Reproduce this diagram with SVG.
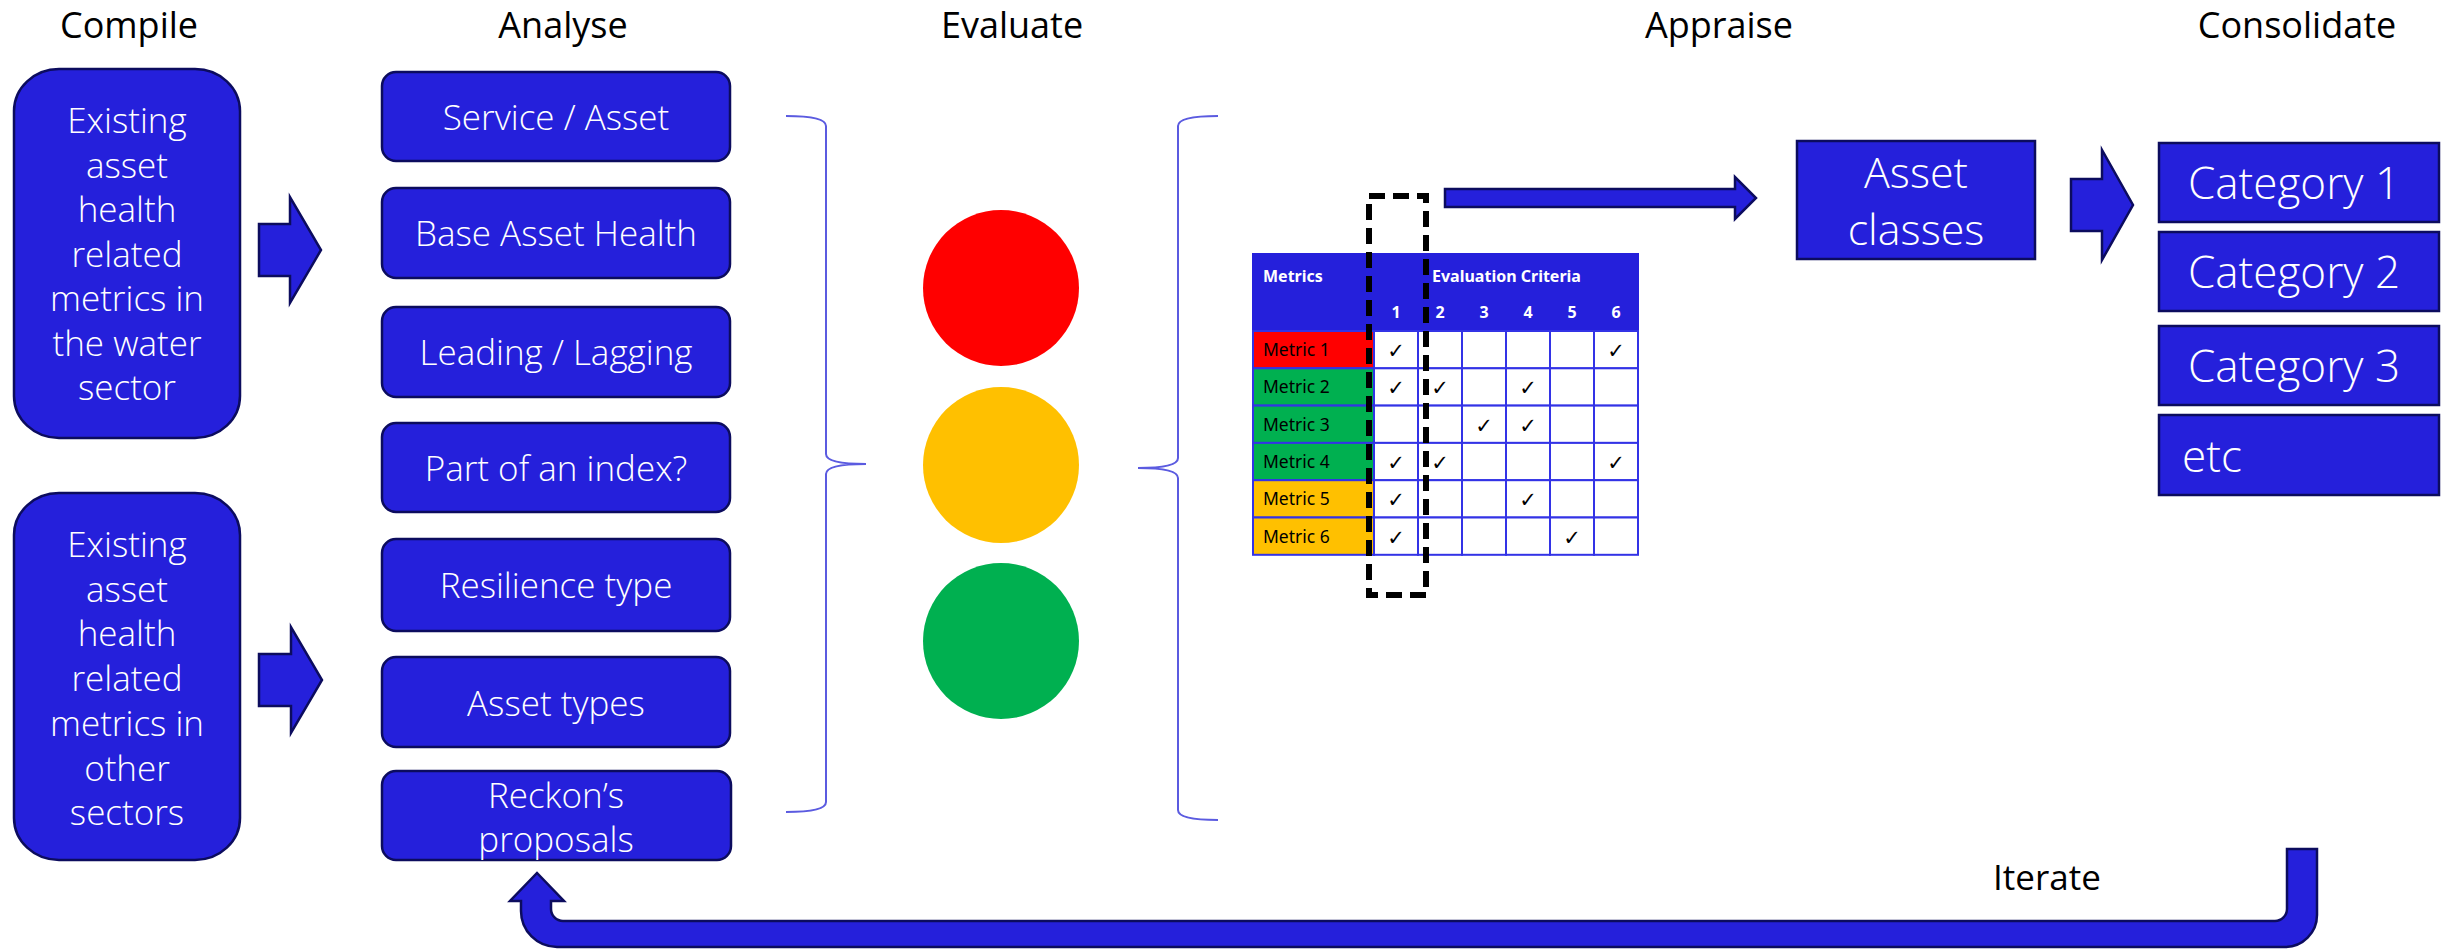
<svg xmlns="http://www.w3.org/2000/svg" width="2441" height="949" viewBox="0 0 2441 949">
<style>
.hdr{font-family:"Open Sans","Liberation Sans",sans-serif;font-size:36px;fill:#000;text-anchor:middle}
.box{fill:#2520DB;stroke:#0C0C5E;stroke-width:2.5}
.bt{font-family:"Open Sans","Liberation Sans",sans-serif;font-weight:300;font-size:35px;fill:#fff;text-anchor:middle}
.ct{font-family:"Open Sans","Liberation Sans",sans-serif;font-weight:300;font-size:44px;fill:#fff}
.arr{fill:#2520DB;stroke:#0C0C5E;stroke-width:2.5;stroke-linejoin:miter}
.brace{fill:none;stroke:#5B5BE0;stroke-width:2}
.cell{fill:#fff;stroke:#3333E6;stroke-width:2}
.mc{stroke:#3333E6;stroke-width:2}
.mt{font-family:"Noto Sans","Liberation Sans",sans-serif;font-size:17.5px;fill:#000}
.th{font-family:"Noto Sans","Liberation Sans",sans-serif;font-size:16px;font-weight:bold;fill:#fff}
.num{font-family:"Noto Sans","Liberation Sans",sans-serif;font-size:16px;font-weight:bold;fill:#fff;text-anchor:middle}
.ck{font-family:"DejaVu Sans",sans-serif;font-size:21px;fill:#000;text-anchor:middle}
</style>

<g id="headers">
<text class="hdr" x="129" y="38">Compile</text>
<text class="hdr" x="563" y="38">Analyse</text>
<text class="hdr" x="1012" y="38">Evaluate</text>
<text class="hdr" x="1719" y="38">Appraise</text>
<text class="hdr" x="2297" y="38">Consolidate</text>
</g>

<g id="compile-water">
<rect class="box" x="14" y="69" width="226" height="369" rx="45" ry="42"/>
<text class="bt" x="127" y="133"><tspan x="127">Existing</tspan><tspan x="127" dy="44.5">asset</tspan><tspan x="127" dy="44.5">health</tspan><tspan x="127" dy="44.5">related</tspan><tspan x="127" dy="44.5">metrics in</tspan><tspan x="127" dy="44.5">the water</tspan><tspan x="127" dy="44.5">sector</tspan></text>
</g>
<g id="compile-other">
<rect class="box" x="14" y="493" width="226" height="367" rx="45" ry="42"/>
<text class="bt" x="127" y="557"><tspan x="127">Existing</tspan><tspan x="127" dy="44.7">asset</tspan><tspan x="127" dy="44.7">health</tspan><tspan x="127" dy="44.7">related</tspan><tspan x="127" dy="44.7">metrics in</tspan><tspan x="127" dy="44.7">other</tspan><tspan x="127" dy="44.7">sectors</tspan></text>
</g>

<g id="analyse-service">
<rect class="box" x="382" y="72" width="348" height="89" rx="14"/>
<text class="bt" x="556" y="130">Service / Asset</text>
</g>
<g id="analyse-base">
<rect class="box" x="382" y="188" width="348" height="90" rx="14"/>
<text class="bt" x="556" y="246">Base Asset Health</text>
</g>
<g id="analyse-leading">
<rect class="box" x="382" y="307" width="348" height="90" rx="14"/>
<text class="bt" x="556" y="365">Leading / Lagging</text>
</g>
<g id="analyse-index">
<rect class="box" x="382" y="423" width="348" height="89" rx="14"/>
<text class="bt" x="556" y="481">Part of an index?</text>
</g>
<g id="analyse-resilience">
<rect class="box" x="382" y="539" width="348" height="92" rx="14"/>
<text class="bt" x="556" y="598">Resilience type</text>
</g>
<g id="analyse-types">
<rect class="box" x="382" y="657" width="348" height="90" rx="14"/>
<text class="bt" x="556" y="716">Asset types</text>
</g>
<g id="analyse-reckon">
<rect class="box" x="382" y="771" width="349" height="89" rx="14"/>
<text class="bt" x="556" y="808">Reckon’s</text>
<text class="bt" x="556" y="852">proposals</text>
</g>

<g id="evaluate">
<circle cx="1001" cy="288" r="78" fill="#FF0000"/>
<circle cx="1001" cy="465" r="78" fill="#FFC000"/>
<circle cx="1001" cy="641" r="78" fill="#00B050"/>
</g>

<g id="table">
<rect x="1252" y="253" width="387" height="78" fill="#2520DB"/>
<text class="th" x="1263" y="282">Metrics</text>
<text class="th" x="1432" y="282">Evaluation Criteria</text>
<text class="num" x="1396" y="318">1</text>
<text class="num" x="1440" y="318">2</text>
<text class="num" x="1484" y="318">3</text>
<text class="num" x="1528" y="318">4</text>
<text class="num" x="1572" y="318">5</text>
<text class="num" x="1616" y="318">6</text>
<g id="metric-cells">
<rect class="mc" x="1253" y="331" width="121" height="37.3" fill="#FF0000"/>
<rect class="mc" x="1253" y="368.3" width="121" height="37.3" fill="#00B050"/>
<rect class="mc" x="1253" y="405.6" width="121" height="37.3" fill="#00B050"/>
<rect class="mc" x="1253" y="442.9" width="121" height="37.3" fill="#00B050"/>
<rect class="mc" x="1253" y="480.2" width="121" height="37.3" fill="#FFC000"/>
<rect class="mc" x="1253" y="517.5" width="121" height="37.3" fill="#FFC000"/>
<text class="mt" x="1263" y="356">Metric 1</text>
<text class="mt" x="1263" y="393.3">Metric 2</text>
<text class="mt" x="1263" y="430.6">Metric 3</text>
<text class="mt" x="1263" y="467.9">Metric 4</text>
<text class="mt" x="1263" y="505.2">Metric 5</text>
<text class="mt" x="1263" y="542.5">Metric 6</text>
</g>
<g id="grid">
<rect class="cell" x="1374" y="331" width="44" height="37.3"/><rect class="cell" x="1418" y="331" width="44" height="37.3"/><rect class="cell" x="1462" y="331" width="44" height="37.3"/><rect class="cell" x="1506" y="331" width="44" height="37.3"/><rect class="cell" x="1550" y="331" width="44" height="37.3"/><rect class="cell" x="1594" y="331" width="44" height="37.3"/>
<rect class="cell" x="1374" y="368.3" width="44" height="37.3"/><rect class="cell" x="1418" y="368.3" width="44" height="37.3"/><rect class="cell" x="1462" y="368.3" width="44" height="37.3"/><rect class="cell" x="1506" y="368.3" width="44" height="37.3"/><rect class="cell" x="1550" y="368.3" width="44" height="37.3"/><rect class="cell" x="1594" y="368.3" width="44" height="37.3"/>
<rect class="cell" x="1374" y="405.6" width="44" height="37.3"/><rect class="cell" x="1418" y="405.6" width="44" height="37.3"/><rect class="cell" x="1462" y="405.6" width="44" height="37.3"/><rect class="cell" x="1506" y="405.6" width="44" height="37.3"/><rect class="cell" x="1550" y="405.6" width="44" height="37.3"/><rect class="cell" x="1594" y="405.6" width="44" height="37.3"/>
<rect class="cell" x="1374" y="442.9" width="44" height="37.3"/><rect class="cell" x="1418" y="442.9" width="44" height="37.3"/><rect class="cell" x="1462" y="442.9" width="44" height="37.3"/><rect class="cell" x="1506" y="442.9" width="44" height="37.3"/><rect class="cell" x="1550" y="442.9" width="44" height="37.3"/><rect class="cell" x="1594" y="442.9" width="44" height="37.3"/>
<rect class="cell" x="1374" y="480.2" width="44" height="37.3"/><rect class="cell" x="1418" y="480.2" width="44" height="37.3"/><rect class="cell" x="1462" y="480.2" width="44" height="37.3"/><rect class="cell" x="1506" y="480.2" width="44" height="37.3"/><rect class="cell" x="1550" y="480.2" width="44" height="37.3"/><rect class="cell" x="1594" y="480.2" width="44" height="37.3"/>
<rect class="cell" x="1374" y="517.5" width="44" height="37.3"/><rect class="cell" x="1418" y="517.5" width="44" height="37.3"/><rect class="cell" x="1462" y="517.5" width="44" height="37.3"/><rect class="cell" x="1506" y="517.5" width="44" height="37.3"/><rect class="cell" x="1550" y="517.5" width="44" height="37.3"/><rect class="cell" x="1594" y="517.5" width="44" height="37.3"/>
</g>
<g id="checks">
<text class="ck" x="1396" y="358">✓</text><text class="ck" x="1616" y="358">✓</text>
<text class="ck" x="1396" y="395.3">✓</text><text class="ck" x="1440" y="395.3">✓</text><text class="ck" x="1528" y="395.3">✓</text>
<text class="ck" x="1484" y="432.6">✓</text><text class="ck" x="1528" y="432.6">✓</text>
<text class="ck" x="1396" y="469.9">✓</text><text class="ck" x="1440" y="469.9">✓</text><text class="ck" x="1616" y="469.9">✓</text>
<text class="ck" x="1396" y="507.2">✓</text><text class="ck" x="1528" y="507.2">✓</text>
<text class="ck" x="1396" y="544.5">✓</text><text class="ck" x="1572" y="544.5">✓</text>
</g>
<rect id="highlight" x="1369" y="196" width="57" height="399" fill="none" stroke="#000" stroke-width="6" stroke-dasharray="16 8"/>
</g>

<g id="asset-classes">
<rect x="1797" y="141" width="238" height="118" fill="#2520DB" stroke="#0C0C5E" stroke-width="2.5"/>
<text class="bt" x="1916" y="188" style="font-size:43px">Asset</text>
<text class="bt" x="1916" y="245" style="font-size:43px">classes</text>
</g>

<g id="category-1">
<rect class="box" x="2159" y="143" width="280" height="79"/>
<text class="ct" x="2188" y="199">Category 1</text>
</g>
<g id="category-2">
<rect class="box" x="2159" y="232" width="280" height="79"/>
<text class="ct" x="2188" y="288">Category 2</text>
</g>
<g id="category-3">
<rect class="box" x="2159" y="326" width="280" height="79"/>
<text class="ct" x="2188" y="382">Category 3</text>
</g>
<g id="category-etc">
<rect class="box" x="2159" y="415" width="280" height="80"/>
<text class="ct" x="2182" y="472">etc</text>
</g>

<g id="iterate-label">
<text x="1993" y="890" style="font-family:'Open Sans','Liberation Sans',sans-serif;font-size:35px;fill:#000">Iterate</text>
</g>

<g id="connectors">
<path class="brace" d="M786,116 Q826,116 826,126 L826,454 Q826,464 866,464 Q826,464 826,474 L826,802 Q826,812 786,812"/>
<path class="brace" d="M1218,116 Q1178,116 1178,126 L1178,458 Q1178,468 1138,468 Q1178,468 1178,478 L1178,810 Q1178,820 1218,820"/>
<polygon class="arr" points="259,224 290,224 290,197 321,250 290,303 290,276 259,276"/>
<polygon class="arr" points="259,654 291,654 291,627 322,680 291,733 291,706 259,706"/>
<polygon class="arr" points="1445,189 1735,189 1735,177 1756,198 1735,219 1735,207 1445,207"/>
<polygon class="arr" points="2071,179 2102,179 2102,150 2133,205 2102,260 2102,231 2071,231"/>
<path class="arr" d="M2287,849 L2317,849 L2317,915 A32,32 0 0 1 2285,947 L557,947 A36,36 0 0 1 521,911 L521,901 L510,901 L537,873 L564,901 L551,901 L551,909 A12,12 0 0 0 563,921 L2275,921 A12,12 0 0 0 2287,909 Z"/>
</g>
</svg>
